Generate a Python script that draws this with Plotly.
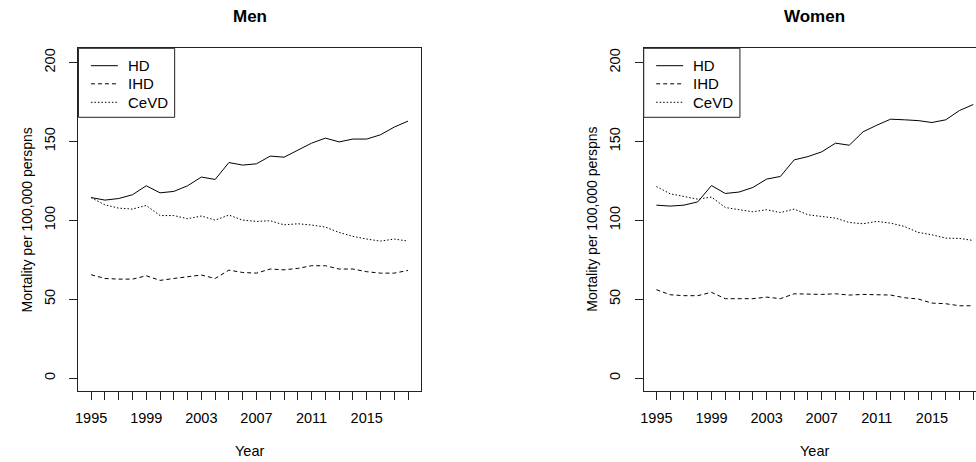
import plotly.graph_objects as go

W, H = 976, 462

years = list(range(1995, 2019))
label_years = [1995, 1999, 2003, 2007, 2011, 2015]
y_ticks = [0, 50, 100, 150, 200]

series_names = ["HD", "IHD", "CeVD"]

men_hd = [114.4, 112.8, 113.8, 116.2, 121.9, 117.4, 118.3, 121.9, 127.4, 125.9,
          136.6, 135.0, 135.8, 140.7, 140.0, 144.2, 148.9, 152.1, 149.7, 151.5,
          151.5, 154.2, 159.1, 162.9]
men_ihd = [65.5, 63.1, 62.7, 62.7, 64.8, 61.9, 63.1, 64.2, 65.3, 63.1,
           68.4, 66.9, 66.5, 69.1, 68.6, 69.5, 71.2, 71.2, 69.1, 69.1,
           67.4, 66.5, 66.5, 68.2]
men_cevd = [114.4, 109.8, 107.7, 107.1, 109.4, 103.0, 103.0, 101.0, 102.7, 100.1,
            103.3, 100.1, 99.3, 99.7, 97.1, 97.8, 97.0, 95.7, 92.3, 89.8,
            88.1, 86.8, 88.1, 86.8]

women_hd = [109.6, 109.0, 109.6, 111.7, 122.0, 117.0, 117.9, 120.8, 126.1, 127.8,
            138.3, 140.4, 143.4, 148.9, 147.6, 156.1, 160.3, 164.1, 163.7, 163.2,
            162.0, 163.7, 169.6, 173.4]
women_ihd = [56.0, 52.8, 52.2, 52.2, 54.3, 50.3, 50.3, 50.3, 51.3, 50.3,
             53.4, 53.0, 53.0, 53.4, 52.6, 53.0, 53.0, 52.6, 50.9, 50.1,
             47.5, 47.1, 45.8, 45.8]
women_cevd = [121.4, 116.8, 115.1, 113.4, 114.7, 108.1, 106.7, 105.4, 106.7, 104.9,
              107.1, 103.5, 102.4, 101.4, 98.6, 97.8, 99.3, 98.2, 96.1, 92.3,
              90.8, 88.7, 88.5, 87.2]

dashes = {"HD": "solid", "IHD": "4px,3px", "CeVD": "1.5px,2px"}

FONT = "Arial, 'Liberation Sans', sans-serif"

# pixel geometry of the panels
top_px, bot_px = 48.3, 390.7
l1, r1 = 75.7, 419.0
l2 = 642.7
x_lo, x_hi = 1994.08, 2018.92
px_per_year = (r1 - l1) / (x_hi - x_lo)
x2_hi = x_lo + (W - l2) / px_per_year

def px(x):
    return x / W

def py(y):
    return 1 - y / H

fig = go.Figure()

panels = [("x", "y", [men_hd, men_ihd, men_cevd]),
          ("x2", "y2", [women_hd, women_ihd, women_cevd])]
for xa, ya, vals in panels:
    for name, v in zip(series_names, vals):
        fig.add_trace(go.Scatter(x=years, y=v, mode="lines", name=name,
                                 xaxis=xa, yaxis=ya, showlegend=False,
                                 line=dict(color="black", width=1, dash=dashes[name])))

ticktext = [str(y) if y in label_years else "" for y in years]
xcommon = dict(tickmode="array", tickvals=years, ticktext=ticktext,
               ticks="outside", ticklen=8, tickcolor="#222", tickwidth=1,
               showline=True, linecolor="#222", linewidth=1, mirror=True,
               showgrid=False, zeroline=False, ticklabelstandoff=6,
               tickfont=dict(family=FONT, size=14.5, color="black"))
ycommon = dict(tickmode="array", tickvals=y_ticks, range=[-8.04, 209.04],
               ticks="outside", ticklen=8, tickcolor="#222", tickwidth=1,
               showline=True, linecolor="#222", linewidth=1,
               showgrid=False, zeroline=False, tickangle=-90, ticklabelstandoff=9,
               tickfont=dict(family=FONT, size=14.5, color="black"))

dom_y = [py(bot_px), py(top_px)]
fig.update_layout(
    width=W, height=H,
    margin=dict(l=0, r=0, t=0, b=0),
    paper_bgcolor="white", plot_bgcolor="white",
    xaxis=dict(domain=[px(l1), px(r1)], range=[x_lo, x_hi], anchor="y", **xcommon),
    yaxis=dict(domain=dom_y, anchor="x", mirror=True, **ycommon),
    xaxis2=dict(domain=[px(l2), 1.0], range=[x_lo, x2_hi], anchor="y2", **xcommon),
    yaxis2=dict(domain=dom_y, anchor="x2", mirror=False, **ycommon),
    showlegend=False,
)

xc = (x_lo + x_hi) / 2
ann = []
for xref, title, ytx in [("x", "Men", 25), ("x2", "Women", 591)]:
    ann.append(dict(text=f"<b>{title}</b>", xref=xref, x=xc, yref="paper", y=py(16),
                    showarrow=False, font=dict(family=FONT, size=17, color="black"),
                    xanchor="center", yanchor="middle"))
    ann.append(dict(text="Year", xref=xref, x=xc, yref="paper", y=py(451),
                    showarrow=False, font=dict(family=FONT, size=14.5, color="black"),
                    xanchor="center", yanchor="middle"))
    ann.append(dict(text="Mortality per 100,000 perspns", xref="paper", x=px(ytx),
                    yref="paper", y=py((top_px + bot_px) / 2), textangle=-90,
                    showarrow=False, font=dict(family=FONT, size=14, color="black"),
                    xanchor="center", yanchor="middle"))

# legends (drawn as boxes with line samples and labels)
shapes = []
row_y = [65.7, 83.8, 102.3]
for left in [l1, l2]:
    shapes.append(dict(type="rect", xref="paper", yref="paper",
                       x0=px(left), x1=px(left + 96.5), y0=py(top_px), y1=py(117.3),
                       line=dict(color="#222", width=1), fillcolor="white"))
    for name, ry in zip(series_names, row_y):
        shapes.append(dict(type="line", xref="paper", yref="paper",
                           x0=px(left + 12.5), x1=px(left + 39.5), y0=py(ry), y1=py(ry),
                           line=dict(color="black", width=1, dash=dashes[name])))
        ann.append(dict(text=name, xref="paper", yref="paper", x=px(left + 47.5), y=py(ry),
                        showarrow=False, xanchor="left", yanchor="middle",
                        font=dict(family=FONT, size=15, color="black")))

fig.update_layout(annotations=ann, shapes=shapes)
fig.write_html("out.html", config={"displayModeBar": False},
               post_script="document.body.style.margin='0';document.body.style.overflow='hidden';")
